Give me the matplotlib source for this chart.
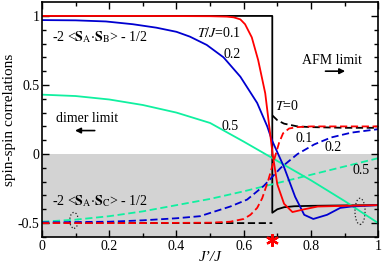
import numpy as np
import matplotlib
matplotlib.use("Agg")
import matplotlib.pyplot as plt
from matplotlib.patches import Ellipse

plt.rcParams['font.family'] = ['Liberation Serif', 'DejaVu Serif']
plt.rcParams['mathtext.fontset'] = 'stix'
plt.rcParams['font.size'] = 10

# critical coupling
jc = 0.685

# T = 0 (black)
x_t0_ab = [0, jc, jc, 0.70, 0.72, 0.75, 0.80, 0.90, 1.0]
y_t0_ab = [1.0, 1.0, -0.425, -0.40, -0.385, -0.378, -0.375, -0.372, -0.37]
x_t0_ac = [0, jc, np.nan, jc, 0.70, 0.72, 0.76, 0.80, 0.90, 1.0]
y_t0_ac = [-0.5, -0.5, np.nan, 0.28, 0.245, 0.22, 0.20, 0.195, 0.19, 0.19]

# T/J = 0.1 (red)
x_01_ab = [0, 0.3, 0.5, 0.55, 0.57, 0.59, 0.604, 0.624, 0.643, 0.664, 0.676,
           0.686, 0.70, 0.72, 0.745, 0.78, 0.82, 0.90, 1.0]
y_01_ab = [1.0, 1.0, 0.998, 0.995, 0.99, 0.975, 0.94, 0.845, 0.68, 0.44, 0.20,
           0.0, -0.22, -0.36, -0.42, -0.40, -0.38, -0.375, -0.37]
x_01_ac = [0, 0.3, 0.5, 0.56, 0.60, 0.62, 0.64, 0.655, 0.673, 0.693, 0.705,
           0.717, 0.735, 0.76, 0.80, 0.90, 1.0]
y_01_ac = [-0.5, -0.5, -0.497, -0.49, -0.47, -0.44, -0.39, -0.32, -0.19, -0.02,
           0.08, 0.15, 0.185, 0.195, 0.20, 0.20, 0.20]

# T/J = 0.2 (blue)
x_02_ab = [0, 0.1, 0.19, 0.27, 0.34, 0.40, 0.44, 0.49, 0.54, 0.59, 0.64, 0.67,
           0.684, 0.72, 0.753, 0.78, 0.807, 0.848, 0.887, 0.92, 0.96, 1.0]
y_02_ab = [0.97, 0.968, 0.96, 0.94, 0.915, 0.885, 0.85, 0.79, 0.70, 0.56, 0.37,
           0.20, 0.10, -0.095, -0.31, -0.44, -0.47, -0.44, -0.39, -0.38, -0.375, -0.37]
x_02_ac = [0, 0.2, 0.3, 0.4, 0.47, 0.56, 0.61, 0.66, 0.71, 0.76, 0.81, 0.86, 0.92, 1.0]
y_02_ac = [-0.495, -0.49, -0.48, -0.465, -0.45, -0.38, -0.33, -0.23, -0.10, 0.0,
           0.07, 0.12, 0.155, 0.18]

# T/J = 0.5 (green)
x_05_ab = [0, 0.1, 0.2, 0.3, 0.4, 0.5, 0.6, 0.7, 0.8, 0.9, 1.0]
y_05_ab = [0.43, 0.42, 0.395, 0.355, 0.30, 0.225, 0.09, -0.05, -0.19, -0.34, -0.50]
x_05_ac = [0, 0.1, 0.2, 0.3, 0.4, 0.5, 0.6, 0.7, 0.8, 0.9, 1.0]
y_05_ac = [-0.49, -0.475, -0.45, -0.415, -0.37, -0.325, -0.27, -0.21, -0.15, -0.09, -0.03]

red = '#ff0000'
blue = '#0000d0'
green = '#10f0a0'
lw = 1.3
dash = (4, 2)

fig = plt.figure(figsize=(3.82, 2.65), dpi=100)
ax = fig.add_axes([0.11, 0.106, 0.88, 0.886])

ax.axhspan(-0.6, 0.0, color='#d3d3d3', lw=0, zorder=0)

ax.plot(x_t0_ab, y_t0_ab, color='black', lw=lw)
ax.plot(x_t0_ac, y_t0_ac, color='black', lw=lw, dashes=dash)
ax.plot(x_05_ab, y_05_ab, color=green, lw=lw)
ax.plot(x_05_ac, y_05_ac, color=green, lw=lw, dashes=dash)
ax.plot(x_02_ab, y_02_ab, color=blue, lw=lw)
ax.plot(x_02_ac, y_02_ac, color=blue, lw=lw, dashes=dash)
ax.plot(x_01_ab, y_01_ab, color=red, lw=lw)
ax.plot(x_01_ac, y_01_ac, color=red, lw=lw, dashes=dash)

# dotted ellipses
ax.add_patch(Ellipse((0.095, -0.48), 0.025, 0.115, fill=False, ls=':', lw=0.9, color='#222222'))
ax.add_patch(Ellipse((0.946, -0.415), 0.03, 0.19, fill=False, ls=':', lw=0.9, color='#222222'))

# labels
ax.text(0.03, 0.845, r'-2 <$\mathbf{S}_{\rm A}$$\cdot$$\mathbf{S}_{\rm B}$> - 1/2', va='center', fontsize=10)
ax.text(0.03, -0.34, r'-2 <$\mathbf{S}_{\rm A}$$\cdot$$\mathbf{S}_{\rm C}$> - 1/2', va='center', fontsize=10)
ax.text(0.46, 0.88, r'$T/J$=0.1', va='center', fontsize=10)
ax.text(0.54, 0.72, '0.2', va='center', fontsize=10)
ax.text(0.535, 0.20, '0.5', va='center', fontsize=10)
ax.text(0.693, 0.35, r'$T$=0', va='center', fontsize=10)
ax.text(0.753, 0.11, '0.1', va='center', fontsize=10)
ax.text(0.84, 0.05, '0.2', va='center', fontsize=10)
ax.text(0.925, -0.12, '0.5', va='center', fontsize=10)

ax.text(0.135, 0.26, 'dimer limit', ha='center', va='center', fontsize=10)
ax.annotate('', xy=(0.09, 0.17), xytext=(0.165, 0.17),
            arrowprops=dict(arrowstyle='-|>', color='black', lw=1.2, mutation_scale=8))
ax.text(0.863, 0.68, 'AFM limit', ha='center', va='center', fontsize=10)
ax.annotate('', xy=(0.91, 0.60), xytext=(0.835, 0.60),
            arrowprops=dict(arrowstyle='-|>', color='black', lw=1.2, mutation_scale=8))

# critical point marker
ax.plot([jc], [-0.62], marker=(6, 2, 0), color=red, ms=9, mew=1.6, clip_on=False, zorder=5)

ax.set_xlim(0, 1)
ax.set_ylim(-0.6, 1.1)
ax.set_xticks([0, 0.2, 0.4, 0.6, 0.8, 1.0])
ax.set_xticklabels(['0', '0.2', '0.4', '0.6', '0.8', '1'])
ax.set_xticks(np.arange(0.1, 1.0, 0.2), minor=True)
ax.set_yticks([-0.5, 0, 0.5, 1])
ax.set_yticklabels(['-0.5', '0', '0.5', '1'])
ax.set_yticks([v / 10 for v in range(-6, 11) if v % 5 != 0], minor=True)
ax.tick_params(which='both', direction='in', top=True, right=True, labelsize=10, width=1)
ax.tick_params(which='major', length=5)
ax.tick_params(which='minor', length=3)
ax.tick_params(axis='both', pad=2)
for s in ax.spines.values():
    s.set_linewidth(1.2)

ax.set_xlabel('J’/J', style='italic', fontsize=11, labelpad=-1)
ax.set_ylabel('spin-spin correlations', fontsize=11, labelpad=1)

fig.savefig('out.png', dpi=100)
